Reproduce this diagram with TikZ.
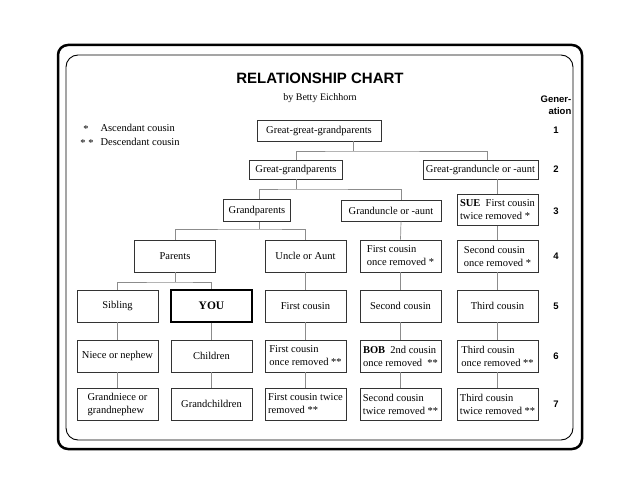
\documentclass[tikz,border=0pt]{standalone}
\usepackage{fontspec}
\setmainfont{Liberation Serif}
\newfontfamily\headfont{Liberation Sans}
\begin{document}
\begin{tikzpicture}[x=1pt,y=-1pt,
    box/.style={draw=black!80,line width=0.6pt,minimum width=81pt,minimum height=32pt,inner sep=2pt,
        font=\fontsize{10.5}{13}\selectfont,align=left},
    link/.style={draw=black!45,line width=0.7pt},
    gen/.style={font=\headfont\bfseries\fontsize{9.5}{12}\selectfont}]
    \useasboundingbox (0,0) rectangle (640,494);
    \draw[line width=2.5pt,rounded corners=10pt] (58,45) rectangle (582,449);
    \draw[line width=0.9pt,rounded corners=12pt] (66,55) rectangle (573,440);

    \node[font=\headfont\bfseries\fontsize{15}{17}\selectfont] (title) at (320,78) {RELATIONSHIP CHART};
    \node[font=\fontsize{10}{12}\selectfont] (by) at (320,98) {by Betty Eichhorn};
    \node[font=\fontsize{10.5}{12}\selectfont] (st1) at (86,129) {*};
    \node[font=\fontsize{10.5}{12}\selectfont] (st2) at (87,143) {* *};
    \node[anchor=west,font=\fontsize{10.5}{12}\selectfont] (lg1) at (97,128) {Ascendant cousin};
    \node[anchor=west,font=\fontsize{10.5}{12}\selectfont] (lg2) at (97,142) {Descendant cousin};
    \node[gen,align=right] (gener) at (556,105) {Gener-\\ation};
    \foreach \n/\y in {1/130,2/169,3/211,4/256,5/306,6/356,7/404}
        \node[gen] (g\n) at (556,\y) {\n};

    \node[box,minimum width=124pt,minimum height=21pt] (ggp) at (319,130.5) {Great-great-grandparents};
    \node[box,minimum width=93pt,minimum height=19pt] (gp2) at (296,169.5) {Great-grandparents};
    \node[box,minimum width=115pt,minimum height=19pt] (gua2) at (480.5,169.5) {Great-granduncle or -aunt};
    \node[box,minimum width=67pt,minimum height=22pt] (gp) at (257,210.5) {Grandparents};
    \node[box,minimum width=100pt,minimum height=21pt] (gua) at (391,210.5) {Granduncle or -aunt};
    \node[box,minimum height=31pt] (sue) at (497.5,210) {\textbf{SUE}\ \ First cousin\\twice removed *};

    \node[box] (par) at (175,256) {Parents};
    \node[box] (ua) at (305.5,256) {Uncle or Aunt};
    \node[box] (fc1) at (400.5,256) {First cousin\\once removed *};
    \node[box] (sc1) at (497.5,256) {Second cousin\\once removed *};

    \node[box] (sib) at (117.5,306) {Sibling};
    \node[box,draw=black,line width=1.3pt,font=\bfseries\fontsize{11.5}{13}\selectfont] (you) at (211.5,306) {YOU};
    \node[box] (fc) at (305.5,306) {First cousin};
    \node[box] (sc) at (400.5,306) {Second cousin};
    \node[box] (tc) at (497.5,306) {Third cousin};

    \node[box] (nn) at (117.5,356) {Niece or nephew};
    \node[box] (ch) at (211.5,356) {Children};
    \node[box] (fcd1) at (305.5,356) {First cousin\\once removed **};
    \node[box] (bob) at (400.5,356) {\textbf{BOB}\ \ 2nd cousin\\once removed\ \ **};
    \node[box] (tcd1) at (497.5,356) {Third cousin\\once removed **};

    \node[box] (gnn) at (117.5,404) {Grandniece or\\grandnephew};
    \node[box] (gch) at (211.5,404) {Grandchildren};
    \node[box] (fcd2) at (305.5,404) {First cousin twice\\removed **};
    \node[box] (scd2) at (400.5,404) {Second cousin\\twice removed **};
    \node[box] (tcd2) at (497.5,404) {Third cousin\\twice removed **};

    \coordinate (j1) at (353,151);
    \coordinate (j2) at (296,189);
    \coordinate (j3) at (259,229);
    \coordinate (j4) at (175,282);
    \coordinate (c4) at (401,0);
    \coordinate (c5) at (487,0);
    \draw[link] (ggp.south -| j1) -- (j1);
    \draw[link] (gp2.north) |- (j1) -| (gua2.north -| c5);
    \draw[link] (gp2.south) -- (j2);
    \draw[link] (gp.north -| j3) |- (j2) -| (gua.north -| c4);
    \draw[link] (gp.south -| j3) -- (j3);
    \draw[link] (par.north) |- (j3) -| (ua.north);
    \draw[link] (gua2.south -| sue.north) -- (sue.north);
    \draw[link] (gua.south -| c4) -- (fc1.north);
    \draw[link] (par.south) -- (j4);
    \draw[link] (sib.north) |- (j4) -| (you.north);
    \foreach \a/\b in {sue/sc1,ua/fc,fc1/sc,sc1/tc,sib/nn,nn/gnn,you/ch,ch/gch,fc/fcd1,fcd1/fcd2,sc/bob,bob/scd2,tc/tcd1,tcd1/tcd2}
        \draw[link] (\a.south) -- (\b.north);
\end{tikzpicture}
\end{document}
